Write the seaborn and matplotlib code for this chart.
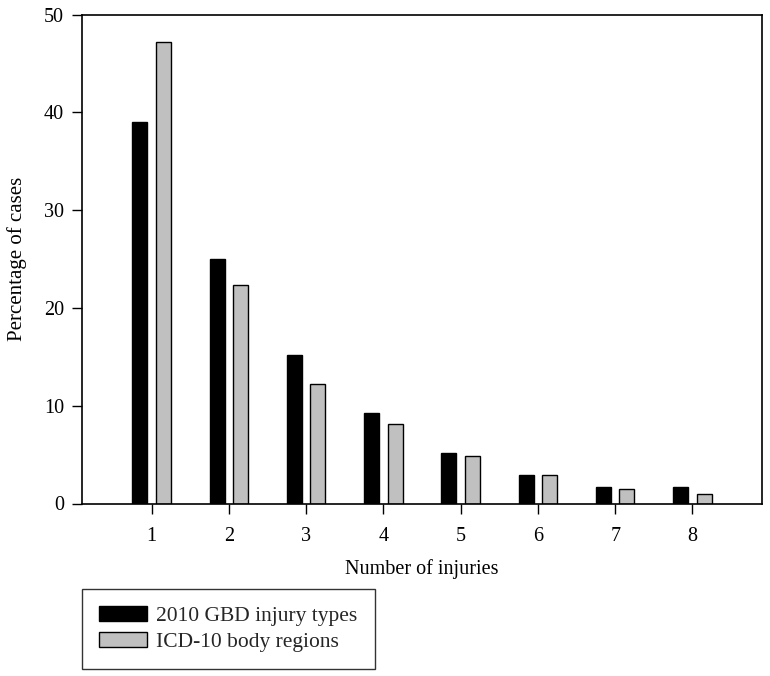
import matplotlib
matplotlib.use("Agg")
import matplotlib.pyplot as plt
import seaborn as sns
import pandas as pd

injuries = ["1", "2", "3", "4", "5", "6", "7", "8"]
gbd_types = [39.0, 25.0, 15.2, 9.3, 5.2, 2.9, 1.7, 1.7]
icd_regions = [47.2, 22.4, 12.2, 8.1, 4.9, 2.9, 1.5, 1.0]
series_names = ["2010 GBD injury types", "ICD-10 body regions"]
yticks = [0, 10, 20, 30, 40, 50]

df = pd.DataFrame({
    "Number of injuries": injuries * 2,
    "Percentage": gbd_types + icd_regions,
    "Series": [series_names[0]] * len(injuries) + [series_names[1]] * len(injuries),
})

sns.set_theme(style="white")
plt.rcParams["font.family"] = ["Liberation Serif", "DejaVu Serif"]

fig = plt.figure(figsize=(7.7, 6.76), dpi=100)
ax = fig.add_axes([82 / 770, 1 - 503.5 / 676, (762 - 82) / 770, (503.5 - 14.7) / 676])

sns.barplot(data=df, x="Number of injuries", y="Percentage", hue="Series",
            hue_order=series_names, palette=["#000000", "#c0c0c0"],
            width=0.608, gap=0.36, edgecolor="black", linewidth=1.0,
            errorbar=None, ax=ax, legend=True, saturation=1)

ax.set_xlim(-0.902, 7.9)
ax.set_ylim(0, 50)
ax.set_yticks(yticks)
ax.set_yticklabels([str(t) for t in yticks])
for s in ax.spines.values():
    s.set_visible(True)
    s.set_color("black")
    s.set_linewidth(1.2)
ax.tick_params(axis="both", which="major", direction="out", length=7, width=1,
               color="black", labelsize=14.5, labelcolor="black", pad=6, left=True, bottom=True)
ax.tick_params(axis="x", pad=10)
ax.set_xlabel("Number of injuries", fontsize=14.5, color="black", labelpad=9)
ax.set_ylabel("Percentage of cases", fontsize=15, color="black", labelpad=12)

handles, labels = ax.get_legend_handles_labels()
ax.get_legend().remove()
leg = fig.legend(handles, labels, loc="upper left",
                 bbox_to_anchor=(82 / 770, 1 - 589 / 676), borderaxespad=0,
                 fancybox=False, frameon=True, fontsize=15.5, handlelength=2.2,
                 handleheight=0.65, handletextpad=0.45, labelspacing=0.3,
                 borderpad=0.8)
leg.get_frame().set_edgecolor("black")
leg.get_frame().set_linewidth(1.0)

fig.savefig("out.png", dpi=100)
